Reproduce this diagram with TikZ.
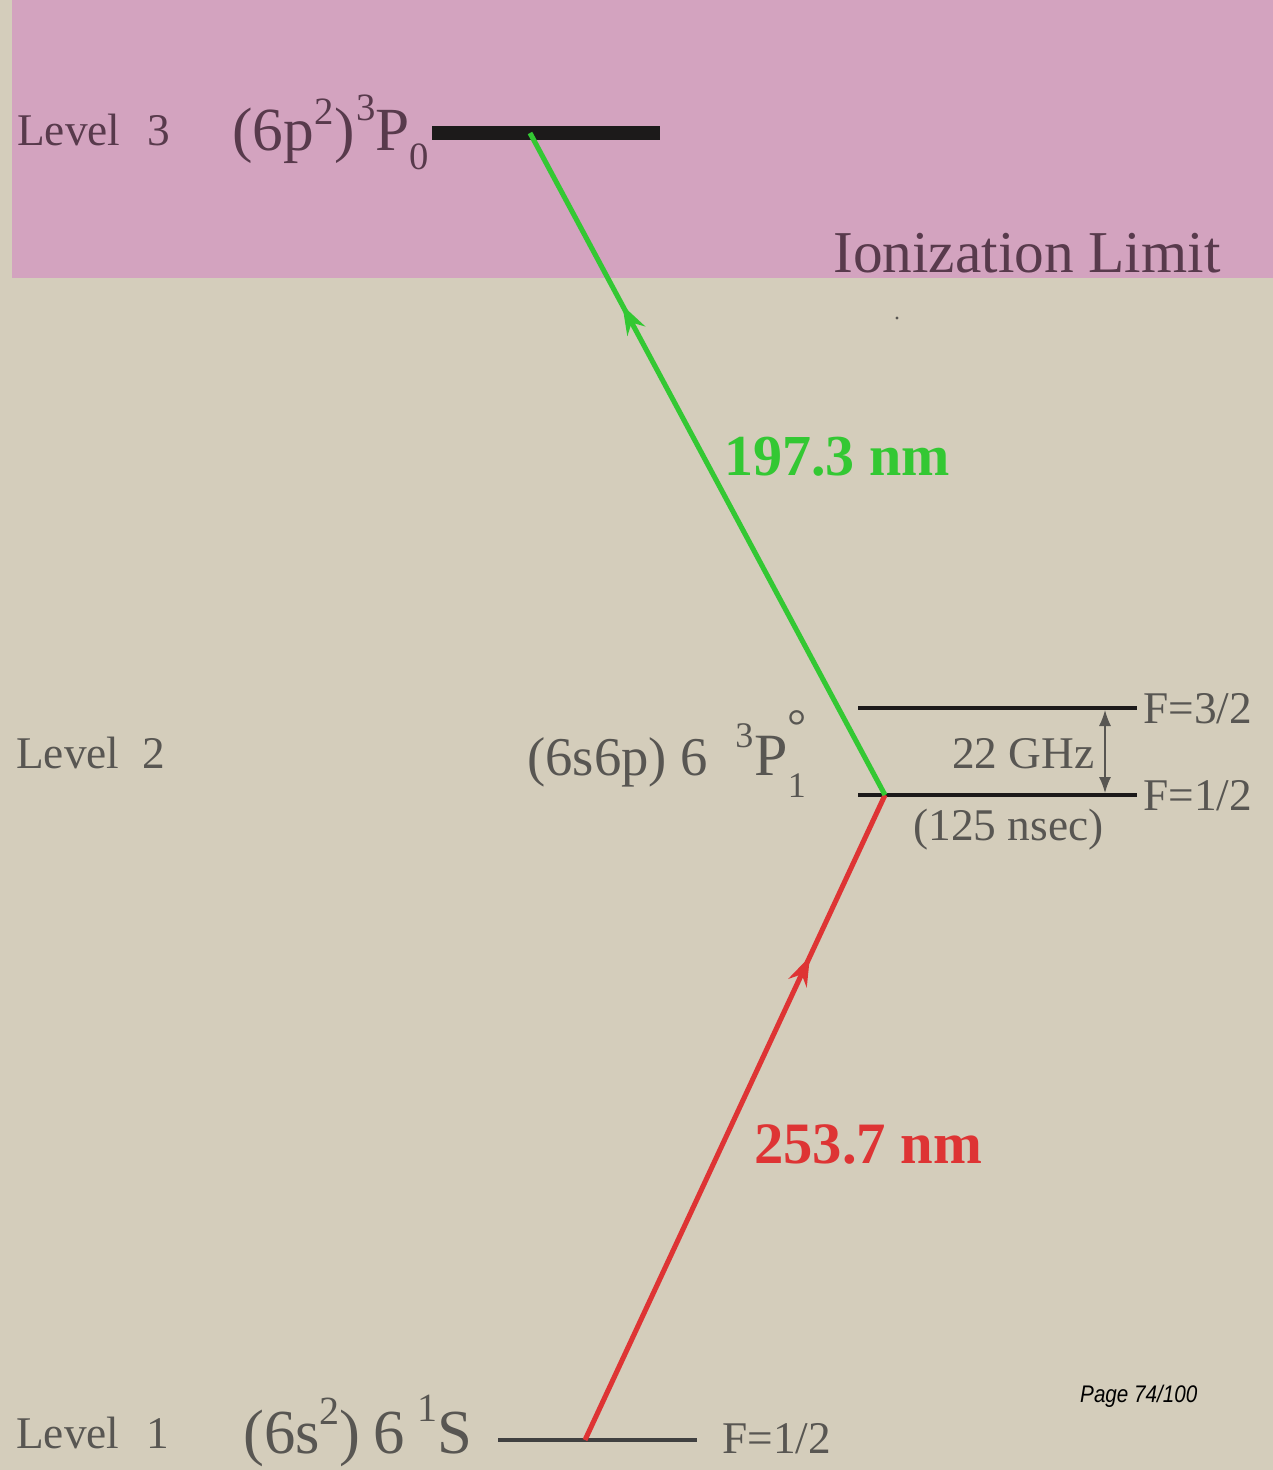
\documentclass[tikz,border=0pt]{standalone}
\usepackage{fontspec}
\setmainfont{Liberation Serif}
\newfontfamily\pagefont{Liberation Sans}
\usetikzlibrary{arrows.meta,decorations.markings}
\definecolor{bgbeige}{HTML}{D4CDBB}
\definecolor{pinkzone}{HTML}{D3A3BF}
\definecolor{txtgray}{HTML}{585652}
\definecolor{txtpurple}{HTML}{583A4C}
\definecolor{lgreen}{HTML}{33C833}
\definecolor{lred}{HTML}{DE3434}
\definecolor{barblack}{HTML}{1C1A1A}
\newcommand\fsz[1]{\fontsize{#1}{#1}\selectfont}
\begin{document}
\begin{tikzpicture}[x=0.75pt,y=-0.75pt,
  levellabel/.style={anchor=base west,inner sep=0pt,font=\fsz{34pt}},
  formula/.style={anchor=base west,inner sep=0pt},
  flabel/.style={anchor=base west,inner sep=0pt,font=\fsz{34pt},text=txtgray},
  thinlevel/.style={line width=3.2pt,draw=barblack},
  transition/.style={line width=3.8pt},
  midarrow/.style={decoration={markings,mark=at position #1 with {\arrow{Stealth[length=22pt,width=15pt]}}},postaction={decorate}},
  bigtext/.style={anchor=base west,inner sep=0pt}]
\useasboundingbox (0,0) rectangle (1273,1470);
\fill[bgbeige] (0,0) rectangle (1273,1470);
\fill[pinkzone] (12,0) rectangle (1273,278);

% named level end points
\coordinate (L3l) at (432,133);
\coordinate (L3r) at (660,133);
\coordinate (L3t) at (530,133);
\coordinate (L2ul) at (858,708);
\coordinate (L2ur) at (1137,708);
\coordinate (L2ll) at (858,795);
\coordinate (L2lr) at (1137,795);
\coordinate (L2t) at (885,795);
\coordinate (L1l) at (498,1440);
\coordinate (L1r) at (697,1440);
\coordinate (L1t) at (585,1440);
\coordinate (HFt) at (1105,710);
\coordinate (HFb) at (1105,793);

% levels
\draw[line width=10pt,draw=barblack] (L3l) -- (L3r);
\draw[thinlevel] (L2ul) -- (L2ur);
\draw[thinlevel] (L2ll) -- (L2lr);
\draw[line width=2.8pt,draw=black!75] (L1l) -- (L1r);

% transitions
\draw[transition,draw=lred,midarrow=0.75] (L1t) -- (L2t);
\draw[transition,draw=lgreen,midarrow=0.74] (L2t) -- (L3t);
\draw[line width=1pt,draw=txtgray,{Latex[length=12pt,width=9pt]}-{Latex[length=12pt,width=9pt]}] (HFt) -- (HFb);

% level labels
\node[levellabel,text=txtpurple] (lv3) at (17,145) {Level\hspace{0.6em}3};
\node[levellabel,text=txtgray] (lv2) at (16,768) {Level\hspace{0.5em}2};
\node[levellabel,text=txtgray] (lv1) at (16,1448) {Level\hspace{0.6em}1};

% formulas
\node[formula,text=txtpurple,font=\fsz{46pt}] (f3) at (232,150)
  {(6p\raisebox{0.42em}{\fsz{29pt}2}\kern0.02em)\kern0.02em\raisebox{0.48em}{\fsz{29pt}3}P\raisebox{-0.32em}{\fsz{29pt}0}};
\node[formula,text=txtgray,font=\fsz{41pt}] (f2) at (527,775)
  {(6s6p) 6\kern0.5em\raisebox{0.5em}{\fsz{27pt}3}\kern0.02em{\fsz{45pt}P}\rlap{\raisebox{0.6em}{\fsz{36pt}°}}\raisebox{-0.42em}{\fsz{27pt}1}};
\node[formula,text=txtgray,font=\fsz{47pt}] (f1) at (243,1453)
  {(6s\raisebox{0.45em}{\fsz{30pt}2})\kern0.2em6\kern0.2em\raisebox{0.5em}{\fsz{30pt}1}S};

% other texts
\node[bigtext,text=txtpurple,font=\fsz{44.5pt}] (ion) at (833,272) {Ionization Limit};
\node[bigtext,text=lgreen,font=\fsz{43.5pt}\bfseries] (wl2) at (724,475) {197.3 nm};
\node[bigtext,text=lred,font=\fsz{44pt}\bfseries] (wl1) at (754,1163) {253.7 nm};
\node[flabel] (ghz) at (952,768) {22 GHz};
\node[flabel] (life) at (913,840) {(125 nsec)};
\node[flabel] (f32) at (1143,723) {F=3/2};
\node[flabel] (f12b) at (1143,810) {F=1/2};
\node[flabel] (f12a) at (722,1453) {F=1/2};
\node[anchor=base west,inner sep=0pt,font=\pagefont\itshape\fsz{18pt},xscale=0.86] (page) at (1080,1402) {Page 74/100};
\fill[txtgray] (897,318) circle (1.6);
\end{tikzpicture}
\end{document}
